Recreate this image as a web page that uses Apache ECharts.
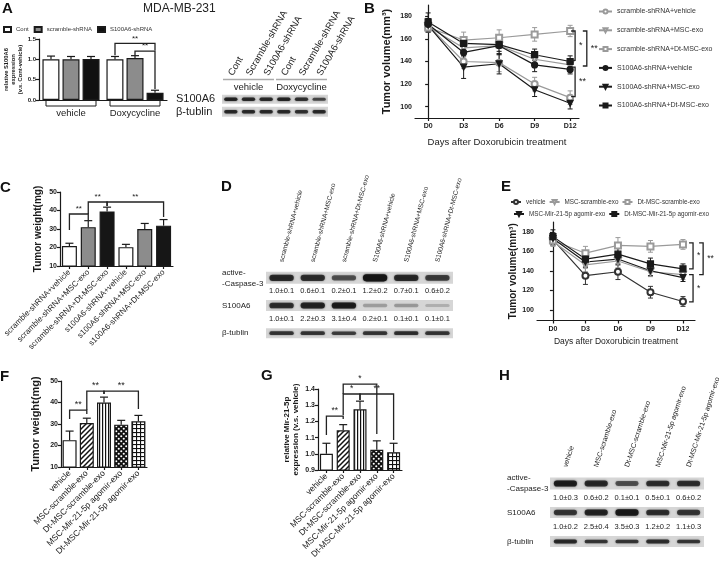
<!DOCTYPE html>
<html><head><meta charset="utf-8">
<script src="https://cdn.jsdelivr.net/npm/echarts@6/dist/echarts.min.js"></script>
<style>html,body{margin:0;padding:0;background:#fff}#c{width:724px;height:567px}</style>
</head><body><div id="c"></div>
<script>
// ================= DATA =================
// Panel A
const aGroups = ['vehicle', 'Doxycycline'];
const aNames = ['Cont', 'scramble-shRNA', 'S100A6-shRNA'];
const aCont = [1.00, 1.00];
const aContErr = [0.08, 0.07];
const aScramble = [1.00, 1.03];
const aScrambleErr = [0.07, 0.06];
const aS100A6 = [1.01, 0.18];
const aS100A6Err = [0.06, 0.06];
// brackets: [slotA, slotB, top, leftEnd, rightEnd]  (slot = group*3 + series)
const aBrackets = [[3, 5, 1.39, 1.10, 1.22], [4, 5, 1.20, 1.10, 0.27]];
const aBracketLabels = ['**', '**'];
// Panel A blot
const aBlotLanes = ['Cont', 'Scramble-shRNA', 'S100A6-shRNA', 'Cont', 'Scramble-shRNA', 'S100A6-shRNA'];
const aBlotGroups = ['vehicle', 'Doxycycline'];
const aBlotRows = ['S100A6', 'β-tublin'];
const aBlotS100A6 = [0.85, 0.8, 0.8, 0.85, 0.75, 0.6];
const aBlotTubulin = [0.8, 0.8, 0.8, 0.8, 0.75, 0.8];

// Panel B
const bDays = ['D0', 'D3', 'D6', 'D9', 'D12'];
const bYTicks = [100, 120, 140, 160, 180];
const bNames = ['scramble-shRNA+vehicle', 'scramble-shRNA+MSC-exo', 'scramble-shRNA+Dt-MSC-exo',
  'S100A6-shRNA+vehicle', 'S100A6-shRNA+MSC-exo', 'S100A6-shRNA+Dt-MSC-exo'];
const bScrVehicle = [172, 140, 139, 120, 108];
const bScrMsc = [171, 152, 154, 142, 137];
const bScrDt = [170, 159, 161, 164, 167];
const bS100Vehicle = [173, 148, 154, 137, 133];
const bS100Msc = [172, 135, 138, 115, 103];
const bS100Dt = [175, 156, 155, 146, 140];
const bScrVehicleErr = [5, 6, 8, 6, 6];
const bScrMscErr = [5, 8, 8, 5, 4];
const bScrDtErr = [4, 7, 7, 6, 5];
const bS100VehicleErr = [5, 8, 8, 6, 4];
const bS100MscErr = [6, 10, 9, 6, 5];
const bS100DtErr = [8, 6, 6, 5, 5];
const bBrackets = [[4.14, 167, 141], [4.47, 167, 136], [4.14, 135, 109]];
const bBracketLabels = ['*', '**', '**'];

// Panel C
const cCategories = ['scramble-shRNA+vehicle', 'scramble-shRNA+MSC-exo', 'scramble-shRNA+Dt-MSC-exo',
  's100A6-shRNA+vehicle', 's100A6-shRNA+MSC-exo', 's100A6-shRNA+Dt-MSC-exo'];
const cValues = [20.8, 31.0, 39.5, 20.2, 30.0, 31.8];
const cErrors = [1.5, 3.5, 2.3, 1.5, 3.0, 3.3];
const cBrackets = [[0, 1, 38.1, 29.5, 34.9], [1, 2, 44.6, 38.1, 42.4], [2, 5, 44.6, 42.4, 36.5]];
const cBracketLabels = ['**', '**', '**'];

// Panel D blot
const dLanes = ['scramble-shRNA+vehicle', 'scramble-shRNA+MSC-exo', 'scramble-shRNA+Dt-MSC-exo',
  'S100A6-shRNA+vehicle', 'S100A6-shRNA+MSC-exo', 'S100A6-shRNA+Dt-MSC-exo'];
const dRows = ['active-\n-Caspase-3', 'S100A6', 'β-tublin'];
const dCaspase = [0.8, 0.75, 0.55, 1.0, 0.8, 0.65];
const dCaspaseText = ['1.0±0.1', '0.6±0.1', '0.2±0.1', '1.2±0.2', '0.7±0.1', '0.6±0.2'];
const dS100A6 = [0.75, 0.85, 0.9, 0.12, 0.15, 0.04];
const dS100A6Text = ['1.0±0.1', '2.2±0.3', '3.1±0.4', '0.2±0.1', '0.1±0.1', '0.1±0.1'];
const dTubulin = [0.7, 0.7, 0.65, 0.7, 0.75, 0.7];

// Panel E
const eNames = ['vehicle', 'MSC-scramble-exo', 'Dt-MSC-scramble-exo', 'MSC-Mir-21-5p agomir-exo', 'Dt-MSC-Mir-21-5p agomir-exo'];
const eVehicle = [172, 135, 139, 118, 108.5];
const eMscScr = [170, 146, 150, 139, 136];
const eDtScr = [171, 158, 166, 165, 167];
const eMscMir = [173, 149, 152, 140, 133];
const eDtMir = [175, 152, 157, 147, 142];
const eVehicleErr = [6, 9, 8, 6, 5];
const eMscScrErr = [5, 7, 7, 5, 5];
const eDtScrErr = [5, 7, 8, 6, 5];
const eMscMirErr = [6, 6, 6, 5, 4];
const eDtMirErr = [7, 5, 6, 6, 5];
const eBrackets = [[4.31, 168.5, 142], [4.62, 168.5, 136], [4.31, 136, 108]];
const eBracketLabels = ['*', '**', '*'];

// Panel F
const fCategories = ['vehicle', 'MSC-scramble-exo', 'Dt-MSC-scramble-exo', 'MSC-Mir-21-5p agomir-exo', 'Dt-MSC-Mir-21-5p agomir-exo'];
const fValues = [22.5, 30.5, 40.0, 29.7, 31.3];
const fErrors = [4.2, 2.2, 2.5, 2.0, 2.7];
const fBrackets = [[0, 1, 36.5, 32.3, 34.7], [1, 2, 45.3, 36.5, 44.0], [2, 4, 45.3, 44.0, 37.0]];
const fBracketLabels = ['**', '**', '**'];

// Panel G
const gCategories = ['vehicle', 'MSC-scramble-exo', 'Dt-MSC-scramble-exo', 'MSC-Mir-21-5p agomir-exo', 'Dt-MSC-Mir-21-5p agomir-exo'];
const gValues = [1.0, 1.145, 1.275, 1.025, 1.01];
const gErrors = [0.065, 0.035, 0.05, 0.055, 0.055];
const gBrackets = [[0, 1, 1.233, 1.116, 1.215], [1, 2, 1.369, 1.24, 1.332], [2, 4, 1.369, 1.332, 1.085], [1, 3, 1.43, 1.369, 1.122]];
const gBracketLabels = ['**', '*', '**', '*'];

// Panel H blot
const hLanes = ['vehicle', 'MSC-scramble-exo', 'Dt-MSC-scramble-exo', 'MSC-Mir-21-5p agomir-exo', 'Dt-MSC-Mir-21-5p agomir-exo'];
const hRows = ['active-\n-Caspase-3', 'S100A6', 'β-tublin'];
const hCaspase = [0.9, 0.8, 0.55, 0.75, 0.75];
const hCaspaseText = ['1.0±0.3', '0.6±0.2', '0.1±0.1', '0.5±0.1', '0.6±0.2'];
const hS100A6 = [0.7, 0.85, 0.95, 0.75, 0.7];
const hS100A6Text = ['1.0±0.2', '2.5±0.4', '3.5±0.3', '1.2±0.2', '1.1±0.3'];
const hTubulin = [0.8, 0.7, 0.7, 0.75, 0.7];

// ================= STYLE HELPERS =================
const FONT = 'Liberation Sans, Arial, sans-serif';
const BLACK = '#1a1a1a';
const GREY = '#9a9a9a';

function makePattern(kind) {
  const c = document.createElement('canvas');
  const ctx = c.getContext('2d');
  if (kind === 'diag') {
    c.width = c.height = 5;
    ctx.fillStyle = '#fff'; ctx.fillRect(0, 0, 5, 5);
    ctx.strokeStyle = '#111'; ctx.lineWidth = 1.5; ctx.beginPath();
    ctx.moveTo(-1, 6); ctx.lineTo(6, -1); ctx.moveTo(-1, 1); ctx.lineTo(1, -1); ctx.moveTo(4, 6); ctx.lineTo(6, 4);
    ctx.stroke();
  } else if (kind === 'vert') {
    c.width = 3; c.height = 3;
    ctx.fillStyle = '#fff'; ctx.fillRect(0, 0, 3, 3);
    ctx.fillStyle = '#111'; ctx.fillRect(0, 0, 1.2, 3);
  } else if (kind === 'dots') {
    c.width = c.height = 5;
    ctx.fillStyle = '#111'; ctx.fillRect(0, 0, 5, 5);
    ctx.fillStyle = '#fff';
    ctx.beginPath(); ctx.arc(1.25, 1.25, 1.05, 0, Math.PI * 2); ctx.fill();
    ctx.beginPath(); ctx.arc(3.75, 3.75, 1.05, 0, Math.PI * 2); ctx.fill();
  } else if (kind === 'grid') {
    c.width = c.height = 4;
    ctx.fillStyle = '#fff'; ctx.fillRect(0, 0, 4, 4);
    ctx.fillStyle = '#111'; ctx.fillRect(0, 0, 1.1, 4); ctx.fillRect(0, 0, 4, 1.1);
  }
  return { image: c, repeat: 'repeat' };
}
const patterns = ['#ffffff', makePattern('diag'), makePattern('vert'), makePattern('dots'), makePattern('grid')];
const cColors = ['#ffffff', '#8c8c8c', '#161616', '#ffffff', '#8c8c8c', '#161616'];

const lineStyleAxis = { color: BLACK, width: 1.2 };
function valueY(gi, min, max, interval, name, nameGap, nameSize, fmt, extra) {
  return Object.assign({
    gridIndex: gi, type: 'value', min, max, interval, name, nameLocation: 'middle', nameGap,
    nameTextStyle: { fontSize: nameSize, fontWeight: 'bold', color: BLACK, fontFamily: FONT },
    axisLine: { show: true, lineStyle: lineStyleAxis },
    axisTick: { show: true, length: 3, lineStyle: lineStyleAxis },
    axisLabel: { fontSize: 7, fontWeight: 'bold', color: BLACK, margin: 3, formatter: fmt },
    splitLine: { show: false }
  }, extra || {});
}
function catX(gi, data, fontSize) {
  return {
    gridIndex: gi, type: 'category', data,
    axisLine: { show: true, lineStyle: lineStyleAxis },
    axisTick: { show: true, alignWithLabel: true, length: 3, lineStyle: lineStyleAxis },
    axisLabel: { rotate: 45, fontSize, color: '#222', interval: 0, margin: 5 }
  };
}
function blotX(gi, data, rotate, fontSize, offset) {
  return {
    gridIndex: gi, type: 'category', data, position: 'top', offset: offset || 0,
    axisLine: { show: false }, axisTick: { show: false },
    axisLabel: { rotate, fontSize, color: '#222', interval: 0, margin: 2 }
  };
}
function blotY(gi, data, margin, fontSize) {
  return {
    gridIndex: gi, type: 'category', data, inverse: true,
    axisLine: { show: false }, axisTick: { show: false },
    axisLabel: { align: 'left', margin, fontSize, color: '#222', lineHeight: fontSize + 3, interval: 0 }
  };
}

// render helpers
function errUp(offset, cap) {
  return function (params, api) {
    const x = api.value(0), v = api.value(1), e = api.value(2);
    const p0 = api.coord([x, v]), p1 = api.coord([x, v + e]);
    const xx = p0[0] + offset;
    return { type: 'group', children: [
      { type: 'line', shape: { x1: xx, y1: p0[1], x2: xx, y2: p1[1] }, style: { stroke: BLACK, lineWidth: 1.2 } },
      { type: 'line', shape: { x1: xx - cap, y1: p1[1], x2: xx + cap, y2: p1[1] }, style: { stroke: BLACK, lineWidth: 1.2 } }
    ] };
  };
}
function errBoth(colors, cap) {
  return function (params, api) {
    const x = api.value(0), y = api.value(1), e = api.value(2), s = api.value(3);
    const pt = api.coord([x, y + e]), pb = api.coord([x, y - e]);
    const c = colors[s];
    const st = { stroke: c, lineWidth: 1 };
    return { type: 'group', children: [
      { type: 'line', shape: { x1: pt[0], y1: pt[1], x2: pb[0], y2: pb[1] }, style: st },
      { type: 'line', shape: { x1: pt[0] - cap, y1: pt[1], x2: pt[0] + cap, y2: pt[1] }, style: st },
      { type: 'line', shape: { x1: pb[0] - cap, y1: pb[1], x2: pb[0] + cap, y2: pb[1] }, style: st }
    ] };
  };
}
function txt(text, x, y, fs, align, valign) {
  return { type: 'text', style: { text, x, y, fontSize: fs, fontFamily: FONT, fill: '#222',
    align, textAlign: align, verticalAlign: valign, textVerticalAlign: valign } };
}
function hBracket(labels, fs, xOf) {
  return function (params, api) {
    const xa = api.value(0), xb = api.value(1), top = api.value(2), le = api.value(3), re = api.value(4);
    let pA = api.coord([xa, top]), pB = api.coord([xb, top]);
    let pL = api.coord([xa, le]), pR = api.coord([xb, re]);
    if (xOf) { const ax = xOf(api, xa), bx = xOf(api, xb); pA = [ax, pA[1]]; pL = [ax, pL[1]]; pB = [bx, pB[1]]; pR = [bx, pR[1]]; }
    return { type: 'group', children: [
      { type: 'polyline', shape: { points: [pL, pA, pB, pR] }, style: { stroke: '#222', lineWidth: 1.3, fill: 'none' } },
      txt(labels[params.dataIndex], (pA[0] + pB[0]) / 2, pA[1] - 1, fs, 'center', 'bottom')
    ] };
  };
}
function vBracket(labels, tick, fs) {
  return function (params, api) {
    const x = api.value(0), t = api.value(1), b = api.value(2);
    const pt = api.coord([x, t]), pb = api.coord([x, b]);
    return { type: 'group', children: [
      { type: 'polyline', shape: { points: [[pt[0] - tick, pt[1]], pt, pb, [pb[0] - tick, pb[1]]] }, style: { stroke: '#222', lineWidth: 1.3, fill: 'none' } },
      txt(labels[params.dataIndex], pt[0] + 4, (pt[1] + pb[1]) / 2, fs, 'left', 'middle')
    ] };
  };
}
function blotStrips(heights) {
  return function (params, api) {
    const cs = params.coordSys;
    const p = api.coord([0, api.value(1)]);
    const h = heights[params.dataIndex];
    return { type: 'rect', shape: { x: cs.x, y: p[1] - h / 2, width: cs.width, height: h }, style: { fill: '#d6d6d6' } };
  };
}
function blotBands(baseH, frac) {
  return function (params, api) {
    const lane = api.value(0), row = api.value(1), k = api.value(2);
    const p = api.coord([lane, row]);
    const bw = api.size([1, 0])[0] * frac;
    const h = baseH[row] * (0.5 + 0.6 * k);
    const a = (0.15 + 0.8 * k).toFixed(2);
    return { type: 'rect', shape: { x: p[0] - bw / 2, y: p[1] - h / 2, width: bw, height: h, r: h / 2 },
      style: { fill: 'rgba(20,20,20,' + a + ')', shadowBlur: 2, shadowColor: 'rgba(20,20,20,' + a + ')' } };
  };
}
function blotTexts(texts, dy, fs) {
  return function (params, api) {
    const p = api.coord([api.value(0), api.value(1)]);
    return txt(texts[params.dataIndex], p[0], p[1] + dy, fs, 'center', 'middle');
  };
}

// ================= OPTION =================
const grids = [
  { left: 39, top: 39, width: 128, height: 61 },     // 0 A bars
  { left: 222, top: 93, width: 106, height: 25 },    // 1 A blot
  { left: 415, top: 5, width: 164, height: 113 },    // 2 B
  { left: 60, top: 192, width: 113, height: 74 },    // 3 C
  { left: 266, top: 264, width: 187, height: 83 },   // 4 D blot
  { left: 537, top: 222, width: 158, height: 98.5 }, // 5 E
  { left: 61, top: 381, width: 86, height: 86 },     // 6 F
  { left: 318, top: 389, width: 84, height: 81 },    // 7 G
  { left: 550, top: 469, width: 154, height: 87 }    // 8 H blot
];

const dayFmt = v => bDays[Math.round(v)];
const lineX = (gi, min, max, name, nameGap, nameSize) => ({
  gridIndex: gi, type: 'value', min, max, name, nameLocation: 'middle', nameGap,
  nameTextStyle: { fontSize: nameSize, color: '#222', fontFamily: FONT },
  axisLine: { show: true, lineStyle: lineStyleAxis },
  axisTick: { show: true, length: 3, lineStyle: lineStyleAxis, customValues: [0, 1, 2, 3, 4] },
  axisLabel: { fontSize: 7, fontWeight: 'bold', color: BLACK, margin: 5, customValues: [0, 1, 2, 3, 4], formatter: dayFmt },
  splitLine: { show: false }
});

const xAxes = [
  { gridIndex: 0, type: 'category', data: aGroups, axisLine: { show: true, lineStyle: lineStyleAxis }, axisTick: { show: false },
    axisLabel: { fontSize: 9.5, color: '#222', margin: 8, interval: 0 } },
  blotX(1, aBlotLanes, -60, 9.5, 16),
  lineX(2, -0.37, 4.25, 'Days after Doxorubicin treatment', 19, 9.5),
  catX(3, cCategories, 8),
  blotX(4, dLanes, -75, 6.6, 0),
  lineX(5, -0.49, 4.37, 'Days after Doxorubicin treatment', 17, 8.5),
  catX(6, fCategories, 8.5),
  catX(7, gCategories, 8.5),
  blotX(8, hLanes, -72, 7, 0)
];
const yAxes = [
  valueY(0, 0, 1.5, 0.5, 'relative S100A6\nexpression\n(v.s. Cont-vehicle)', 8, 5.8, v => v.toFixed(1),
    { nameTextStyle: { fontSize: 5.8, fontWeight: 'bold', color: BLACK, lineHeight: 7, fontFamily: FONT }, axisLabel: { fontSize: 6, fontWeight: 'bold', color: BLACK, margin: 3, formatter: v => v.toFixed(1) } }),
  blotY(1, aBlotRows, 46, 11),
  valueY(2, 90, 190, null, 'Tumor volume(mm³)', 23, 11, null,
    { axisLabel: { fontSize: 7, fontWeight: 'bold', color: BLACK, margin: 3, customValues: bYTicks },
      axisTick: { show: true, length: 3, lineStyle: lineStyleAxis, customValues: bYTicks } }),
  valueY(3, 10, 50, 10, 'Tumor weight(mg)', 17, 10, null),
  blotY(4, dRows, 44, 8),
  valueY(5, 89, 190, null, 'Tumor volume(mm³)', 17, 10, null,
    { axisLabel: { fontSize: 7, fontWeight: 'bold', color: BLACK, margin: 3, customValues: bYTicks },
      axisTick: { show: true, length: 3, lineStyle: lineStyleAxis, customValues: bYTicks } }),
  valueY(6, 10, 50, 10, 'Tumor weight(mg)', 20, 11, null),
  valueY(7, 0.9, 1.4, 0.1, 'relative Mir-21-5p\nexpression (v.s. vehicle)', 17, 8, v => v.toFixed(1),
    { nameTextStyle: { fontSize: 8, fontWeight: 'bold', color: BLACK, lineHeight: 9.5, fontFamily: FONT } }),
  blotY(8, hRows, 43, 8)
];

const series = [];
// ---- A bars ----
const aVals = [aCont, aScramble, aS100A6];
const aErrs = [aContErr, aScrambleErr, aS100A6Err];
const aFill = ['#ffffff', '#8c8c8c', '#111111'];
const aOffsets = [-20, 0, 20];
aVals.forEach((vals, k) => {
  series.push({ type: 'bar', name: aNames[k], xAxisIndex: 0, yAxisIndex: 0, data: vals, barWidth: 17, barGap: '18%',
    itemStyle: { color: aFill[k], borderColor: BLACK, borderWidth: 1.2 }, z: 2 });
});
aVals.forEach((vals, k) => {
  series.push({ type: 'custom', name: 'aErr' + k, xAxisIndex: 0, yAxisIndex: 0, z: 5,
    data: vals.map((v, i) => [i, v, aErrs[k][i]]), encode: { x: 0, y: 1 }, renderItem: errUp(aOffsets[k], 4) });
});
series.push({ type: 'custom', name: 'aBr', xAxisIndex: 0, yAxisIndex: 0, z: 6, data: aBrackets,
  encode: { x: -1, y: 2 },
  renderItem: hBracket(aBracketLabels, 8, (api, slot) => api.coord([Math.floor(slot / 3), 0])[0] + aOffsets[slot % 3]) });
// A group underline
series.push({ type: 'custom', name: 'aGroupLine', xAxisIndex: 0, yAxisIndex: 0, z: 6, data: aGroups.map((g, i) => [i, 0]),
  encode: { x: 0, y: 1 },
  renderItem: function (params, api) {
    const p = api.coord([api.value(0), 0]);
    return { type: 'polyline', shape: { points: [[p[0] - 25, p[1]], [p[0] - 25, p[1] + 6], [p[0] + 25, p[1] + 6], [p[0] + 25, p[1]]] },
      style: { stroke: BLACK, lineWidth: 1, fill: 'none' } };
  } });
// ---- A blot ----
series.push({ type: 'custom', name: 'aStrips', xAxisIndex: 1, yAxisIndex: 1, data: aBlotRows.map((r, i) => [0, i]),
  encode: { x: 0, y: 1 }, renderItem: blotStrips([9, 10]), z: 1 });
series.push({ type: 'custom', name: 'aBands', xAxisIndex: 1, yAxisIndex: 1, z: 2,
  data: [...aBlotS100A6.map((k, i) => [i, 0, k]), ...aBlotTubulin.map((k, i) => [i, 1, k])],
  encode: { x: 0, y: 1 }, renderItem: blotBands([3.5, 3.5], 0.75) });
series.push({ type: 'custom', name: 'aBlotGroups', xAxisIndex: 1, yAxisIndex: 1, z: 2,
  data: [[0, 0, 2], [3, 0, 5]], encode: { x: 0, y: 1 },
  renderItem: function (params, api) {
    const cs = params.coordSys;
    const p0 = api.coord([api.value(0), 0]), p1 = api.coord([api.value(2), 0]);
    const bw = api.size([1, 0])[0];
    const x0 = p0[0] - bw * 0.5 + 1, x1 = p1[0] + bw * 0.5 - 1;
    return { type: 'group', children: [
      { type: 'line', shape: { x1: x0, y1: cs.y - 13.5, x2: x1, y2: cs.y - 13.5 }, style: { stroke: '#aaa', lineWidth: 1.5 } },
      txt(aBlotGroups[params.dataIndex], (x0 + x1) / 2, cs.y - 5.5, 9.5, 'center', 'middle')
    ] };
  } });

// ---- B lines ----
const bVals = [bScrVehicle, bScrMsc, bScrDt, bS100Vehicle, bS100Msc, bS100Dt];
const bErrs = [bScrVehicleErr, bScrMscErr, bScrDtErr, bS100VehicleErr, bS100MscErr, bS100DtErr];
const bColors = [GREY, GREY, GREY, BLACK, BLACK, BLACK];
const bSymbols = ['emptyCircle', 'emptyTriangle', 'emptyRect', 'circle', 'triangle', 'rect'];
const bRot = [0, 180, 0, 0, 180, 0];
series.push({ type: 'custom', name: 'bErr', xAxisIndex: 2, yAxisIndex: 2, z: 3,
  data: bVals.flatMap((vals, s) => vals.map((v, i) => [i, v, bErrs[s][i], s])), encode: { x: 0, y: 1 },
  renderItem: errBoth(bColors, 2.5) });
bVals.forEach((vals, s) => {
  series.push({ type: 'line', name: bNames[s], xAxisIndex: 2, yAxisIndex: 2, z: 4,
    data: vals.map((v, i) => [i, v]), symbol: bSymbols[s], symbolSize: 6, symbolRotate: bRot[s],
    lineStyle: { color: bColors[s], width: 1.2 }, itemStyle: { color: bColors[s], borderColor: bColors[s], borderWidth: 1.2 } });
});
series.push({ type: 'custom', name: 'bBr', xAxisIndex: 2, yAxisIndex: 2, z: 6, data: bBrackets, encode: { x: 0, y: [1, 2] },
  renderItem: vBracket(bBracketLabels, 4, 9) });

// ---- C bars ----
series.push({ type: 'bar', name: 'cBars', xAxisIndex: 3, yAxisIndex: 3, barWidth: 15, z: 2,
  data: cValues.map((v, i) => ({ value: v, itemStyle: { color: cColors[i], borderColor: BLACK, borderWidth: 1.2 } })) });
series.push({ type: 'custom', name: 'cErr', xAxisIndex: 3, yAxisIndex: 3, z: 5,
  data: cValues.map((v, i) => [i, v, cErrors[i]]), encode: { x: 0, y: 1 }, renderItem: errUp(0, 4) });
series.push({ type: 'custom', name: 'cBr', xAxisIndex: 3, yAxisIndex: 3, z: 6, data: cBrackets, encode: { x: [0, 1], y: [2, 3, 4] },
  renderItem: hBracket(cBracketLabels, 8) });

// ---- D blot ----
series.push({ type: 'custom', name: 'dStrips', xAxisIndex: 4, yAxisIndex: 4, data: dRows.map((r, i) => [0, i]),
  encode: { x: 0, y: 1 }, renderItem: blotStrips([12, 11, 10]), z: 1 });
series.push({ type: 'custom', name: 'dBands', xAxisIndex: 4, yAxisIndex: 4, z: 2,
  data: [...dCaspase.map((k, i) => [i, 0, k]), ...dS100A6.map((k, i) => [i, 1, k]), ...dTubulin.map((k, i) => [i, 2, k])],
  encode: { x: 0, y: 1 }, renderItem: blotBands([6.5, 6, 4], 0.78) });
series.push({ type: 'custom', name: 'dText', xAxisIndex: 4, yAxisIndex: 4, z: 2,
  data: [...dCaspaseText.map((t, i) => [i, 0]), ...dS100A6Text.map((t, i) => [i, 1])], encode: { x: 0, y: 1 },
  renderItem: blotTexts([...dCaspaseText, ...dS100A6Text], 13, 7.5) });

// ---- E lines ----
const eVals = [eVehicle, eMscScr, eDtScr, eMscMir, eDtMir];
const eErrs = [eVehicleErr, eMscScrErr, eDtScrErr, eMscMirErr, eDtMirErr];
const eColors = ['#333333', GREY, GREY, BLACK, BLACK];
const eSymbols = ['emptyCircle', 'emptyTriangle', 'emptyRect', 'triangle', 'rect'];
const eRot = [0, 180, 0, 180, 0];
series.push({ type: 'custom', name: 'eErr', xAxisIndex: 5, yAxisIndex: 5, z: 3,
  data: eVals.flatMap((vals, s) => vals.map((v, i) => [i, v, eErrs[s][i], s])), encode: { x: 0, y: 1 },
  renderItem: errBoth(eColors, 2.5) });
eVals.forEach((vals, s) => {
  series.push({ type: 'line', name: eNames[s], xAxisIndex: 5, yAxisIndex: 5, z: 4,
    data: vals.map((v, i) => [i, v]), symbol: eSymbols[s], symbolSize: 6, symbolRotate: eRot[s],
    lineStyle: { color: eColors[s], width: 1.2 }, itemStyle: { color: eColors[s], borderColor: eColors[s], borderWidth: 1.2 } });
});
series.push({ type: 'custom', name: 'eBr', xAxisIndex: 5, yAxisIndex: 5, z: 6, data: eBrackets, encode: { x: 0, y: [1, 2] },
  renderItem: vBracket(eBracketLabels, 4, 8.5) });

// ---- F bars ----
series.push({ type: 'bar', name: 'fBars', xAxisIndex: 6, yAxisIndex: 6, barWidth: 14, z: 2,
  data: fValues.map((v, i) => ({ value: v, itemStyle: { color: patterns[i], borderColor: BLACK, borderWidth: 1.2 } })) });
series.push({ type: 'custom', name: 'fErr', xAxisIndex: 6, yAxisIndex: 6, z: 5,
  data: fValues.map((v, i) => [i, v, fErrors[i]]), encode: { x: 0, y: 1 }, renderItem: errUp(0, 4) });
series.push({ type: 'custom', name: 'fBr', xAxisIndex: 6, yAxisIndex: 6, z: 6, data: fBrackets, encode: { x: [0, 1], y: [2, 3, 4] },
  renderItem: hBracket(fBracketLabels, 9) });

// ---- G bars ----
series.push({ type: 'bar', name: 'gBars', xAxisIndex: 7, yAxisIndex: 7, barWidth: 13, z: 2,
  data: gValues.map((v, i) => ({ value: v, itemStyle: { color: patterns[i], borderColor: BLACK, borderWidth: 1.2 } })) });
series.push({ type: 'custom', name: 'gErr', xAxisIndex: 7, yAxisIndex: 7, z: 5,
  data: gValues.map((v, i) => [i, v, gErrors[i]]), encode: { x: 0, y: 1 }, renderItem: errUp(0, 4) });
series.push({ type: 'custom', name: 'gBr', xAxisIndex: 7, yAxisIndex: 7, z: 6, data: gBrackets, encode: { x: [0, 1], y: [2, 3, 4] },
  renderItem: hBracket(gBracketLabels, 8.5) });

// ---- H blot ----
series.push({ type: 'custom', name: 'hStrips', xAxisIndex: 8, yAxisIndex: 8, data: hRows.map((r, i) => [0, i]),
  encode: { x: 0, y: 1 }, renderItem: blotStrips([12, 11, 11]), z: 1 });
series.push({ type: 'custom', name: 'hBands', xAxisIndex: 8, yAxisIndex: 8, z: 2,
  data: [...hCaspase.map((k, i) => [i, 0, k]), ...hS100A6.map((k, i) => [i, 1, k]), ...hTubulin.map((k, i) => [i, 2, k])],
  encode: { x: 0, y: 1 }, renderItem: blotBands([6, 6, 4], 0.75) });
series.push({ type: 'custom', name: 'hText', xAxisIndex: 8, yAxisIndex: 8, z: 2,
  data: [...hCaspaseText.map((t, i) => [i, 0]), ...hS100A6Text.map((t, i) => [i, 1])], encode: { x: 0, y: 1 },
  renderItem: blotTexts([...hCaspaseText, ...hS100A6Text], 14.5, 7.5) });

const letter = (t, x, y) => ({ type: 'text', x, y, style: { text: t, fontSize: 15, fontWeight: 'bold', fontFamily: FONT, fill: '#111' } });

const option = {
  animation: false,
  backgroundColor: '#fff',
  textStyle: { fontFamily: FONT },
  grid: grids,
  xAxis: xAxes,
  yAxis: yAxes,
  legend: [
    { data: aNames, left: 3, top: 26, padding: 0, icon: 'rect', itemWidth: 7, itemHeight: 5, itemGap: 5, selectedMode: false,
      textStyle: { fontSize: 6, color: '#333' } },
    { data: bNames, orient: 'vertical', left: 598, top: 8, padding: 0, itemWidth: 13, itemHeight: 5, itemGap: 11.8, selectedMode: false,
      textStyle: { fontSize: 7, color: '#333' } },
    { data: eNames.slice(0, 3), left: 510, top: 199, padding: 0, itemWidth: 10, itemHeight: 5, itemGap: 3, selectedMode: false,
      textStyle: { fontSize: 6.3, color: '#333' } },
    { data: eNames.slice(3), left: 513, top: 211, padding: 0, itemWidth: 10, itemHeight: 5, itemGap: 3, selectedMode: false,
      textStyle: { fontSize: 6.3, color: '#333' } }
  ],
  graphic: [
    letter('A', 2, 1), letter('B', 364, 1), letter('C', 0, 180), letter('D', 221, 179),
    letter('E', 501, 179), letter('F', 0, 369), letter('G', 261, 368), letter('H', 499, 368),
    { type: 'text', x: 143, y: 3, style: { text: 'MDA-MB-231', fontSize: 12, fontFamily: FONT, fill: '#222' } }
  ],
  series
};

const chart = echarts.init(document.getElementById('c'), null, { renderer: 'canvas', width: 724, height: 567 });
chart.setOption(option);
</script>
</body></html>
